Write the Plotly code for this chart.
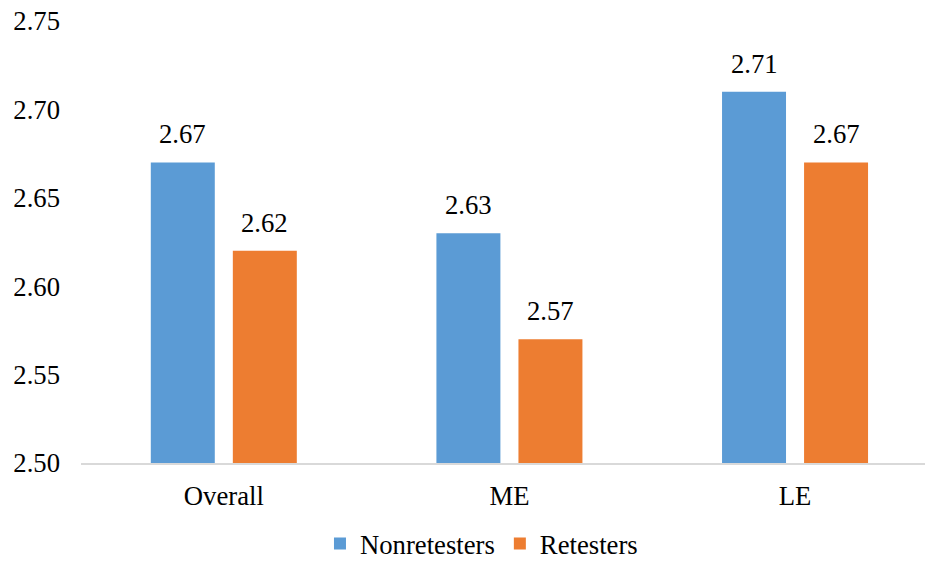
import plotly.graph_objects as go

categories = ["Overall", "ME", "LE"]
nonretesters = [2.67, 2.63, 2.71]
retesters = [2.62, 2.57, 2.67]
series_names = ["Nonretesters", "Retesters"]
y_ticks = [2.50, 2.55, 2.60, 2.65, 2.70, 2.75]

FONT = "Liberation Serif"
FS = 26.7
BLUE = "#5B9BD5"
ORANGE = "#ED7D31"

fig = go.Figure()
fig.add_trace(go.Bar(x=categories, y=nonretesters, name=series_names[0],
                     marker=dict(color=BLUE, line=dict(width=0))))
fig.add_trace(go.Bar(x=categories, y=retesters, name=series_names[1],
                     marker=dict(color=ORANGE, line=dict(width=0))))

# value labels above each bar, shifted to the bar's slot within the group
for values, shift in ((nonretesters, -41), (retesters, 41)):
    for cat, v in zip(categories, values):
        fig.add_annotation(x=cat, y=v, text=f"{v:.2f}", showarrow=False,
                           xref="x", yref="y", xshift=shift, yshift=11,
                           yanchor="bottom",
                           font=dict(family=FONT, size=FS, color="#000000"))

fig.update_layout(
    width=925, height=563,
    margin=dict(l=81, r=0, t=21, b=100, autoexpand=False),
    paper_bgcolor="white", plot_bgcolor="white",
    barmode="group", bargap=0.4256, bargroupgap=0.22,
    font=dict(family=FONT, size=FS, color="#000000"),
    showlegend=True,
    legend=dict(orientation="h", x=0.4745, xanchor="center",
                y=-0.237, yanchor="bottom",
                font=dict(family=FONT, size=FS, color="#000000"),
                itemsizing="constant"),
)
fig.update_xaxes(
    type="category", range=[-0.5, 2.455],
    showline=True, linecolor="#D9D9D9", linewidth=1.5,
    showgrid=False, ticks="", ticklabelstandoff=8,
    tickfont=dict(family=FONT, size=FS, color="#000000"),
)
fig.update_yaxes(
    range=[2.50, 2.75], tickvals=y_ticks,
    ticktext=[f"{t:.2f}" for t in y_ticks],
    showgrid=False, zeroline=False, showline=False, ticks="",
    ticklabelstandoff=20,
    tickfont=dict(family=FONT, size=FS, color="#000000"),
)

fig.write_html("out.html")
